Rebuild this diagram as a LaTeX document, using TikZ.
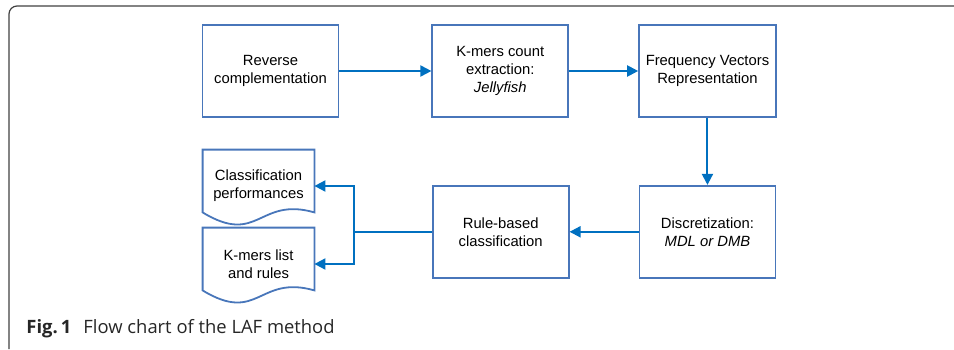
\documentclass[tikz,border=0pt]{standalone}
\usepackage{fontspec}
\setmainfont{Liberation Sans}
\newfontfamily\capfont{Open Sans}
\usetikzlibrary{positioning,arrows.meta}
\definecolor{boxblue}{RGB}{72,118,186}
\definecolor{flowblue}{RGB}{0,112,192}

\begin{document}
\begin{tikzpicture}[
    stepbox/.style={
        draw=boxblue,
        line width=0.9pt,
        minimum height=46pt,
        minimum width=68pt,
        align=center,
        font=\fontsize{7.4}{9}\selectfont
    },
    docbox/.style={
        minimum height=36pt,
        minimum width=55.5pt,
        inner sep=0pt,
        align=center,
        font=\fontsize{7.4}{9}\selectfont
    },
    docline/.style={
        draw=boxblue,
        line width=0.9pt
    },
    flow/.style={
        -{Triangle[length=5.5pt,width=5.5pt]},
        draw=flowblue,
        line width=1pt
    }
]

\useasboundingbox (0,0) rectangle (477pt,174.5pt);

% outer frame
\draw[black!75, line width=0.6pt, rounded corners=4pt] (4.5pt,0) -- (4.5pt,171.5pt) -- (477pt,171.5pt);

% top row
\node[stepbox] (reverse) at (135.25pt,139pt) {Reverse\\complementation};
\node[stepbox, right=46pt of reverse] (kmers) {K-mers count\\extraction:\\\textit{Jellyfish}};
\node[stepbox, right=34.5pt of kmers] (freq) {Frequency Vectors\\Representation};

% bottom row
\node[stepbox, below=33.5pt of freq] (discr) {Discretization:\\\textit{MDL or DMB}};
\node[stepbox, left=34.5pt of discr] (rules) {Rule-based\\classification};

% output documents
\node[docbox] (perf) at (129.25pt,81.5pt) {Classification\\performances};
\node[docbox] (kmlist) at (129.25pt,42.5pt) {K-mers list\\and rules};
\foreach \d in {perf,kmlist}
    \draw[docline] (\d.north west) -- (\d.north east) -- ([yshift=5pt]\d.south east)
        .. controls ([yshift=13pt]\d.south) and ([yshift=-12pt]\d.south) .. ([yshift=5pt]\d.south west) -- cycle;

% arrows
\draw[flow] (reverse) -- (kmers);
\draw[flow] (kmers) -- (freq);
\draw[flow] (freq) -- (discr);
\draw[flow] (discr) -- (rules);
\draw[draw=flowblue, line width=1pt] (rules.west) -- ++(-39pt,0) coordinate (split);
\draw[flow] (split) |- (perf.east);
\draw[flow] (split) |- (kmlist.east);

% caption
\node[anchor=base west, inner sep=0pt, text=black!85, font=\capfont\fontsize{9.2}{11}\selectfont] (caption) at (13pt,8pt) {\textbf{Fig.\,1}\hspace{0.66em}Flow chart of the LAF method};

\end{tikzpicture}
\end{document}
